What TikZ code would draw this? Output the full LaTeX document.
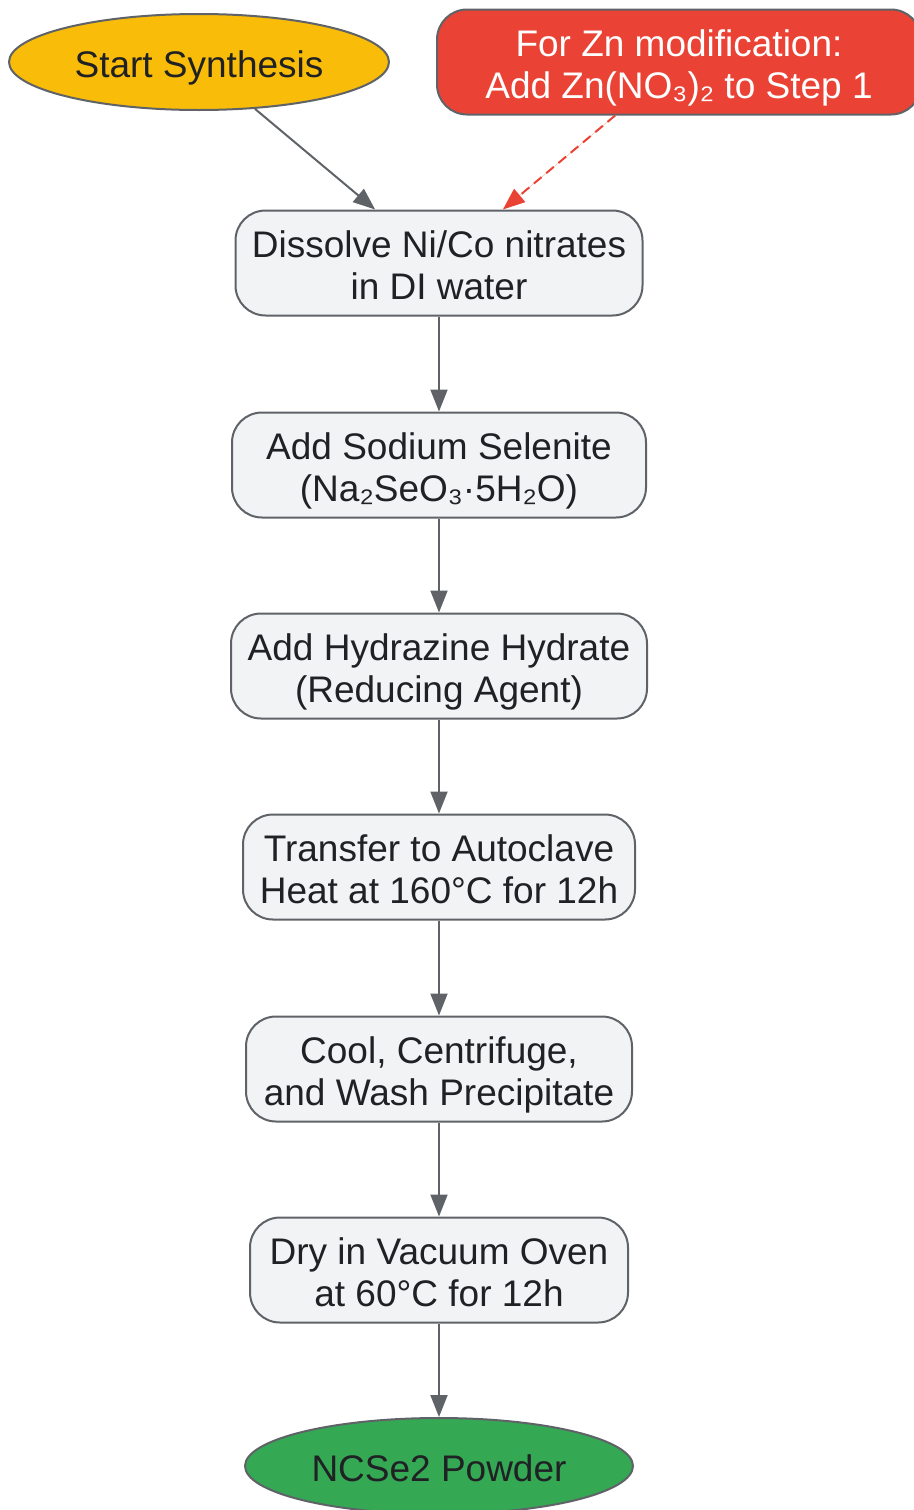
\documentclass[tikz,border=0pt]{standalone}
\usepackage{fontspec}
\setmainfont{Liberation Sans}
\usetikzlibrary{shapes.geometric,arrows.meta}
\definecolor{stepfill}{HTML}{F1F3F4}
\definecolor{stepline}{HTML}{5F6368}
\definecolor{startfill}{HTML}{F9BC08}
\definecolor{zncolor}{HTML}{EA4335}
\definecolor{endfill}{HTML}{34A853}
\definecolor{inkcol}{HTML}{202124}
\newcommand{\topstrut}{\rule{0pt}{39pt}}
\newcommand{\botstrut}{\rule[-8pt]{0pt}{8pt}}
% two text lines, first one raised to an even height
\newcommand{\twolines}[2]{\topstrut#1\\#2}
\tikzset{
  stepbox/.style={draw=stepline, fill=stepfill, line width=2pt, rounded corners=30pt,
    minimum height=105pt, align=center, text=inkcol, inner sep=0pt,
    execute at end node=\botstrut},
  oval/.style={ellipse, draw=stepline, line width=2pt, minimum height=96pt,
    text=inkcol, inner sep=0pt, execute at begin node=\topstrut, execute at end node=\botstrut},
  flow/.style={draw=stepline, line width=2pt, -{Triangle[length=22pt,width=17pt]}},
}
\begin{document}
\begin{tikzpicture}[x=1pt, y=-1pt, font=\fontsize{37}{42}\selectfont]
  \useasboundingbox (0,0) rectangle (913,1510);
  \node[oval, fill=startfill, minimum width=380pt] (start) at (199,62) {Start Synthesis};
  \node[stepbox, draw=stepline, fill=zncolor, text=white, minimum width=484pt] (zn) at (679,62)
    {\twolines{For Zn modification:}{Add Zn(NO₃)₂ to Step 1}};
  \node[stepbox, minimum width=407pt] (dissolve) at (439,263) {\twolines{Dissolve Ni/Co nitrates}{in DI water}};
  \node[stepbox, minimum width=414pt] (selenite) at (439,465) {\twolines{Add Sodium Selenite}{(Na₂SeO₃·5H₂O)}};
  \node[stepbox, minimum width=416pt] (hydrazine) at (439,666) {\twolines{Add Hydrazine Hydrate}{(Reducing Agent)}};
  \node[stepbox, minimum width=392pt] (autoclave) at (439,867) {\twolines{Transfer to Autoclave}{Heat at 160°C for 12h}};
  \node[stepbox, minimum width=386pt] (wash) at (439,1069) {\twolines{Cool, Centrifuge,}{and Wash Precipitate}};
  \node[stepbox, minimum width=378pt] (dry) at (439,1270) {\twolines{Dry in Vacuum Oven}{at 60°C for 12h}};
  \node[oval, fill=endfill, minimum width=388pt] (powder) at (439,1466) {NCSe2 Powder};

  \draw[flow] (start) -- (dissolve);
  \draw[flow, draw=zncolor, fill=zncolor, dash pattern=on 10pt off 6pt] (zn) -- (dissolve);
  \draw[flow] (dissolve) -- (selenite);
  \draw[flow] (selenite) -- (hydrazine);
  \draw[flow] (hydrazine) -- (autoclave);
  \draw[flow] (autoclave) -- (wash);
  \draw[flow] (wash) -- (dry);
  \draw[flow] (dry) -- (powder);
\end{tikzpicture}
\end{document}
